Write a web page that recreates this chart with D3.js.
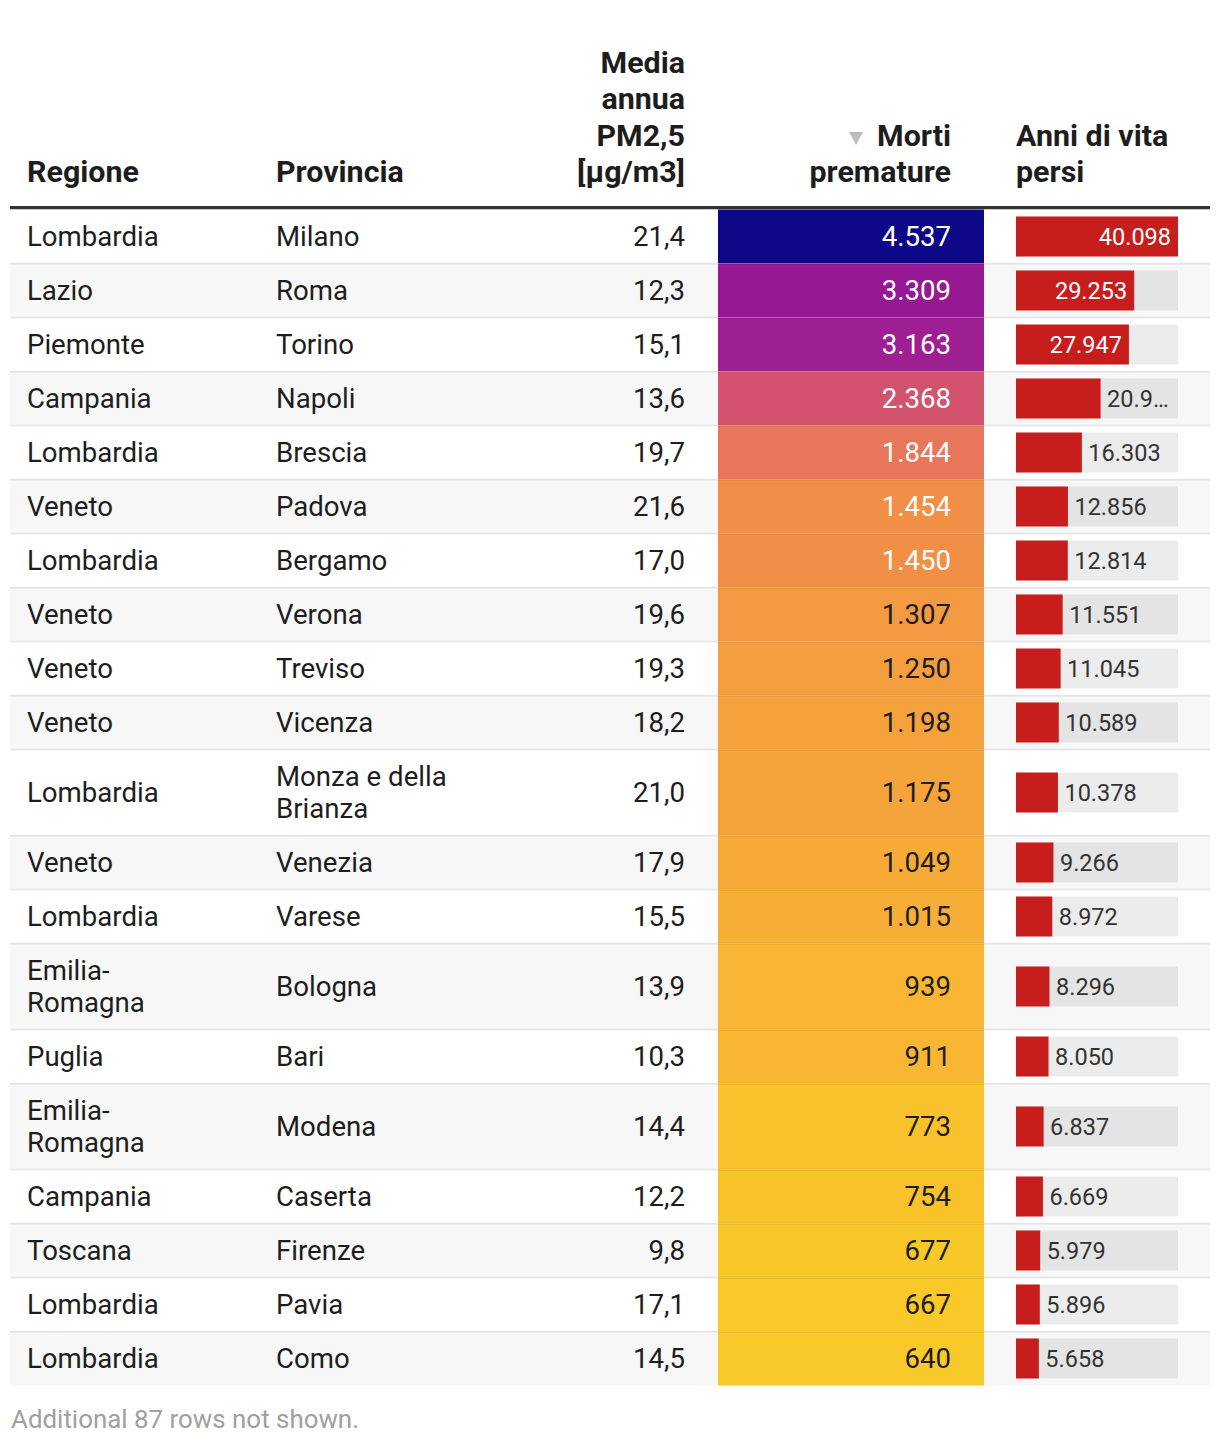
<!DOCTYPE html>
<html>
<head>
<meta charset="utf-8">
<script src="https://cdn.jsdelivr.net/npm/d3@7"></script>
<style>
  html, body { margin: 0; padding: 0; background: #fff; }
  svg { display: block; font-family: Roboto, "Noto Sans", sans-serif; }
</style>
</head>
<body>
<svg id="chart" width="1220" height="1444"></svg>
<script>
// ---------- data ----------
const regions = ["Lombardia","Lazio","Piemonte","Campania","Lombardia","Veneto","Lombardia","Veneto","Veneto","Veneto","Lombardia","Veneto","Lombardia","Emilia-Romagna","Puglia","Emilia-Romagna","Campania","Toscana","Lombardia","Lombardia"];
const provinces = ["Milano","Roma","Torino","Napoli","Brescia","Padova","Bergamo","Verona","Treviso","Vicenza","Monza e della Brianza","Venezia","Varese","Bologna","Bari","Modena","Caserta","Firenze","Pavia","Como"];
const pm25 = [21.4,12.3,15.1,13.6,19.7,21.6,17.0,19.6,19.3,18.2,21.0,17.9,15.5,13.9,10.3,14.4,12.2,9.8,17.1,14.5];
const deaths = [4537,3309,3163,2368,1844,1454,1450,1307,1250,1198,1175,1049,1015,939,911,773,754,677,667,640];
const yearsLost = [40098,29253,27947,20934,16303,12856,12814,11551,11045,10589,10378,9266,8972,8296,8050,6837,6669,5979,5896,5658];

const headerRegione = ["Regione"];
const headerProvincia = ["Provincia"];
const headerPM = ["Media","annua","PM2,5","[µg/m3]"];
const headerMorti = ["Morti","premature"];
const headerAnni = ["Anni di vita","persi"];
const footerText = "Additional 87 rows not shown.";

// heatmap gradient stops (value -> colour)
const colorStopValues = [640, 677, 773, 939, 1049, 1175, 1250, 1307, 1454, 1844, 2368, 3163, 3309, 4537];
const colorStopColors = ["#f7ca29","#f8c828","#f9c12b","#f8b433","#f7ab37","#f5a43c","#f59e3f","#f49a42","#f28f47","#e8765a","#d3536f","#9e1f91","#961893","#0d0887"];

// ---------- setup ----------
const svg = d3.select("#chart");
const tableLeft = 10, tableRight = 1210;
const bodyFont = 27.6, barFont = 23.5, headFont = 30.4;
const textColor = "#1d1d1d";

const it = d3.formatLocale({decimal: ",", thousands: ".", grouping: [3], currency: ["€", ""]});
const fmtInt = it.format(",d");
const fmt1 = it.format(".1f");

const color = d3.scaleLinear().domain(colorStopValues).range(colorStopColors).interpolate(d3.interpolateRgb);

// columns
const col = {
  regX: 27, regMax: 188,
  provX: 276, provMax: 208,
  pmRight: 685,
  heatX: 718, heatW: 266, heatRight: 951,
  barX: 1016, barW: 162
};
const xBar = d3.scaleLinear().domain([0, d3.max(yearsLost)]).range([0, col.barW]);

// measuring helper
const meas = svg.append("text").attr("font-size", bodyFont).attr("visibility", "hidden");
function textWidth(s, size, weight) {
  meas.attr("font-size", size).attr("font-weight", weight || 400).text(s);
  return meas.node().getComputedTextLength();
}
function wrap(s, maxW, size) {
  const tokens = [];
  s.split(" ").forEach((w, wi) => {
    w.split(/(?<=-)/).forEach((p, pi) => tokens.push({t: p, sp: wi > 0 && pi === 0}));
  });
  const lines = [];
  let cur = "";
  tokens.forEach(tok => {
    const cand = cur === "" ? tok.t : cur + (tok.sp ? " " : "") + tok.t;
    if (cur !== "" && textWidth(cand, size) > maxW) { lines.push(cur); cur = tok.t; }
    else cur = cand;
  });
  if (cur) lines.push(cur);
  return lines;
}

// ---------- rows layout ----------
const baseRowH = 54, lineH = 32;
const rows = regions.map((r, i) => {
  const regLines = wrap(r, col.regMax, bodyFont);
  const provLines = wrap(provinces[i], col.provMax, bodyFont);
  const n = Math.max(regLines.length, provLines.length);
  return {i, regLines, provLines, h: baseRowH + (n - 1) * lineH};
});
let yy = 209.5;
rows.forEach(r => { r.y = yy; yy += r.h; r.cy = r.y + r.h / 2; });

// ---------- header ----------
const headBase = 182, headLH = 36.3;
const head = svg.append("g").attr("font-weight", 700).attr("font-size", headFont).attr("fill", textColor);
function headerBlock(lines, x, anchor) {
  const t = head.append("text").attr("text-anchor", anchor);
  lines.forEach((l, k) => {
    t.append("tspan").attr("x", x).attr("y", headBase - (lines.length - 1 - k) * headLH).text(l);
  });
  return t;
}
headerBlock(headerRegione, col.regX, "start");
headerBlock(headerProvincia, col.provX, "start");
headerBlock(headerPM, col.pmRight, "end");
headerBlock(headerMorti, col.heatRight, "end");
headerBlock(headerAnni, col.barX, "start");
// sort indicator
const mortiW = textWidth(headerMorti[0], headFont, 700);
const triR = col.heatRight - mortiW - 14;
svg.append("path")
  .attr("d", `M${triR - 14},${132} L${triR},${132} L${triR - 7},${145} Z`)
  .attr("fill", "#bdbdbd");

// header rule
svg.append("rect").attr("x", tableLeft).attr("y", 206).attr("width", tableRight - tableLeft).attr("height", 3.5).attr("fill", "#333");

// ---------- body ----------
const body = svg.append("g");
const rowG = body.selectAll("g.row").data(rows).join("g").attr("class", "row");

rowG.append("rect")
  .attr("x", tableLeft).attr("y", d => d.y).attr("width", tableRight - tableLeft).attr("height", d => d.h)
  .attr("fill", d => d.i % 2 ? "#f7f7f7" : "#ffffff");

// heatmap cells
rowG.append("rect")
  .attr("x", col.heatX).attr("y", d => d.y).attr("width", col.heatW).attr("height", d => d.h)
  .attr("fill", d => color(deaths[d.i]));

// multi-line text helper
function multiText(sel, x, anchor, linesFn) {
  sel.append("text")
    .attr("text-anchor", anchor).attr("font-size", bodyFont).attr("fill", textColor)
    .each(function(d) {
      const lines = linesFn(d);
      const t = d3.select(this);
      const top = d.cy - (lines.length - 1) * lineH / 2;
      lines.forEach((l, k) => t.append("tspan").attr("x", x).attr("y", top + k * lineH + 9.5).text(l));
    });
}
multiText(rowG, col.regX, "start", d => d.regLines);
multiText(rowG, col.provX, "start", d => d.provLines);
multiText(rowG, col.pmRight, "end", d => [fmt1(pm25[d.i])]);

rowG.append("text")
  .attr("x", col.heatRight).attr("y", d => d.cy + 9.5)
  .attr("text-anchor", "end").attr("font-size", bodyFont)
  .attr("fill", d => d3.lab(color(deaths[d.i])).l < 70 ? "#ffffff" : textColor)
  .text(d => fmtInt(deaths[d.i]));

// bars
const barH = 40;
rowG.append("rect")
  .attr("x", col.barX).attr("y", d => d.cy - barH / 2).attr("width", col.barW).attr("height", barH)
  .attr("fill", "rgba(0,0,0,0.075)");
rowG.append("rect")
  .attr("x", col.barX).attr("y", d => d.cy - barH / 2).attr("width", d => xBar(yearsLost[d.i])).attr("height", barH)
  .attr("fill", "#c71e1d");
rowG.each(function(d) {
  const g = d3.select(this);
  const label = fmtInt(yearsLost[d.i]);
  const bw = xBar(yearsLost[d.i]);
  const lw = textWidth(label, barFont);
  if (bw >= lw + 30) {
    g.append("text").attr("x", col.barX + bw - 7).attr("y", d.cy + 8.3)
      .attr("text-anchor", "end").attr("font-size", barFont).attr("fill", "#fff").text(label);
  } else {
    const x0 = col.barX + bw + 6.5;
    const avail = col.barX + col.barW - x0 - 3;
    let s = label;
    if (lw > avail) {
      let k = label.length;
      while (k > 1 && textWidth(label.slice(0, k) + "…", barFont) > avail) k--;
      s = label.slice(0, k) + "…";
    }
    g.append("text").attr("x", x0).attr("y", d.cy + 8.3)
      .attr("text-anchor", "start").attr("font-size", barFont).attr("fill", "#333").text(s);
  }
});

// row separators (drawn over everything)
body.selectAll("line.sep").data(rows.slice(1)).join("line").attr("class", "sep")
  .attr("x1", tableLeft).attr("x2", tableRight).attr("y1", d => d.y).attr("y2", d => d.y)
  .attr("stroke", "rgba(0,0,0,0.09)").attr("stroke-width", 1.75);

// footer
svg.append("text").attr("x", 11).attr("y", 1428).attr("font-size", 25.9).attr("fill", "#a0a0a0").text(footerText);
meas.remove();
</script>
</body>
</html>
